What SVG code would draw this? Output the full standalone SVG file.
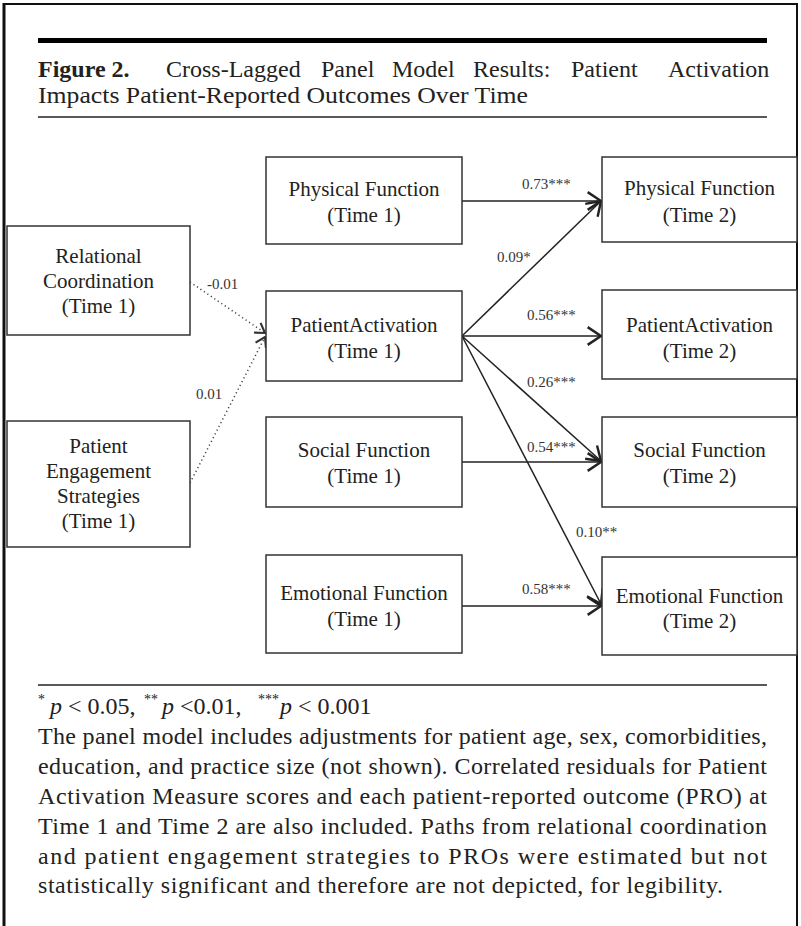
<svg xmlns="http://www.w3.org/2000/svg" width="801" height="926" viewBox="0 0 801 926">
<style>
  .frame{stroke:#111;fill:none}
  .box{fill:#fff;stroke:#333;stroke-width:1.5}
  .nt{font-family:"Liberation Serif","Times New Roman",serif;font-size:21px;fill:#222;text-anchor:middle}
  .lbl{font-family:"Liberation Serif","Times New Roman",serif;font-size:15px;fill:#333}
  .edge{stroke:#222;stroke-width:1.5;fill:none;marker-end:url(#arr)}
  .dot{stroke:#444;stroke-width:1.5;fill:none;stroke-dasharray:1.2 3;marker-end:url(#arrs)}
  .ttl{font-family:"Liberation Serif","Times New Roman",serif;font-size:24px;fill:#222}
  .ft{font-family:"Liberation Serif","Times New Roman",serif;font-size:24px;fill:#222}
  .sup{font-size:14px}
</style>
<defs>
  <marker id="arr" markerUnits="userSpaceOnUse" markerWidth="16" markerHeight="20" viewBox="0 0 14 18" refX="13" refY="9" orient="auto">
    <path d="M1,1 L13,9 L1,17" fill="none" stroke="#222" stroke-width="2.2"/>
  </marker>
  <marker id="arrs" markerUnits="userSpaceOnUse" markerWidth="12" markerHeight="14" viewBox="0 0 10 12" refX="9" refY="6" orient="auto">
    <path d="M1,1 L9,6 L1,11" fill="none" stroke="#333" stroke-width="1.8"/>
  </marker>
</defs>
<rect width="801" height="926" fill="#fff"/>
<!-- frame -->
<line class="frame" x1="4" y1="3" x2="4" y2="926" stroke-width="3"/>
<line class="frame" x1="3" y1="4" x2="798" y2="4" stroke-width="2"/>
<line class="frame" x1="797" y1="3" x2="797" y2="926" stroke-width="2"/>
<!-- title -->
<rect x="38" y="38" width="729" height="5" fill="#000"/>
<text class="ttl" y="77"><tspan x="38" font-weight="bold">Figure 2.</tspan><tspan x="166">Cross-Lagged</tspan><tspan x="321">Panel</tspan><tspan x="392">Model</tspan><tspan x="473">Results:</tspan><tspan x="571">Patient</tspan><tspan x="668">Activation</tspan></text>
<text class="ttl" x="38" y="103" textLength="490" lengthAdjust="spacingAndGlyphs">Impacts Patient-Reported Outcomes Over Time</text>
<line x1="38" y1="117" x2="767" y2="117" stroke="#222" stroke-width="1.5"/>

<!-- connectors -->
<g id="connectors">
  <line class="dot" x1="190" y1="282" x2="265" y2="333"/>
  <line class="dot" x1="190" y1="483" x2="265" y2="337"/>
  <line class="edge" x1="462" y1="201" x2="601" y2="201"/>
  <line class="edge" x1="462" y1="336" x2="601" y2="201"/>
  <line class="edge" x1="462" y1="336" x2="601" y2="336"/>
  <line class="edge" x1="462" y1="336" x2="601" y2="461"/>
  <line class="edge" x1="462" y1="336" x2="601" y2="604"/>
  <line class="edge" x1="462" y1="462" x2="601" y2="462"/>
  <line class="edge" x1="462" y1="606" x2="601" y2="606"/>
  <text class="lbl" x="207" y="289">-0.01</text>
  <text class="lbl" x="196" y="399">0.01</text>
  <text class="lbl" x="522" y="189">0.73***</text>
  <text class="lbl" x="497" y="262">0.09*</text>
  <text class="lbl" x="527" y="320">0.56***</text>
  <text class="lbl" x="527" y="387">0.26***</text>
  <text class="lbl" x="527" y="452">0.54***</text>
  <text class="lbl" x="576" y="537">0.10**</text>
  <text class="lbl" x="522" y="594">0.58***</text>
</g>

<!-- nodes -->
<g id="rc1">
  <rect class="box" x="7" y="226" width="183" height="109"/>
  <text class="nt" x="98.5" y="263">Relational</text>
  <text class="nt" x="98.5" y="288">Coordination</text>
  <text class="nt" x="98.5" y="313">(Time 1)</text>
</g>
<g id="pes1">
  <rect class="box" x="7" y="421" width="183" height="126"/>
  <text class="nt" x="98.5" y="453">Patient</text>
  <text class="nt" x="98.5" y="478">Engagement</text>
  <text class="nt" x="98.5" y="503">Strategies</text>
  <text class="nt" x="98.5" y="528">(Time 1)</text>
</g>
<g id="pf1">
  <rect class="box" x="266" y="157" width="196" height="87"/>
  <text class="nt" x="364" y="196">Physical Function</text>
  <text class="nt" x="364" y="222">(Time 1)</text>
</g>
<g id="pa1">
  <rect class="box" x="266" y="291" width="196" height="90"/>
  <text class="nt" x="364" y="332">PatientActivation</text>
  <text class="nt" x="364" y="358">(Time 1)</text>
</g>
<g id="sf1">
  <rect class="box" x="266" y="417" width="196" height="90"/>
  <text class="nt" x="364" y="457">Social Function</text>
  <text class="nt" x="364" y="483">(Time 1)</text>
</g>
<g id="ef1">
  <rect class="box" x="266" y="555" width="196" height="98"/>
  <text class="nt" x="364" y="600">Emotional Function</text>
  <text class="nt" x="364" y="626">(Time 1)</text>
</g>
<g id="pf2">
  <rect class="box" x="602" y="157" width="195" height="85"/>
  <text class="nt" x="699.5" y="195">Physical Function</text>
  <text class="nt" x="699.5" y="222">(Time 2)</text>
</g>
<g id="pa2">
  <rect class="box" x="602" y="290" width="195" height="89"/>
  <text class="nt" x="699.5" y="332">PatientActivation</text>
  <text class="nt" x="699.5" y="358">(Time 2)</text>
</g>
<g id="sf2">
  <rect class="box" x="602" y="417" width="195" height="90"/>
  <text class="nt" x="699.5" y="457">Social Function</text>
  <text class="nt" x="699.5" y="483">(Time 2)</text>
</g>
<g id="ef2">
  <rect class="box" x="602" y="557" width="195" height="98"/>
  <text class="nt" x="699.5" y="603">Emotional Function</text>
  <text class="nt" x="699.5" y="628">(Time 2)</text>
</g>

<!-- footer -->
<line x1="38" y1="685" x2="767" y2="685" stroke="#222" stroke-width="1.5"/>
<text class="ft" y="714" font-size="25"><tspan class="sup" x="38" dy="-10">*</tspan><tspan x="50" dy="10" font-style="italic">p</tspan><tspan x="68">&lt; 0.05,</tspan><tspan class="sup" x="144" dy="-10">**</tspan><tspan x="162" dy="10" font-style="italic">p</tspan><tspan x="180">&lt;0.01,</tspan><tspan class="sup" x="258" dy="-10">***</tspan><tspan x="280" dy="10" font-style="italic">p</tspan><tspan x="298">&lt; 0.001</tspan></text>
<text class="ft" x="38" y="744" textLength="729" lengthAdjust="spacing">The panel model includes adjustments for patient age, sex, comorbidities,</text>
<text class="ft" x="38" y="774" textLength="729" lengthAdjust="spacing">education, and practice size (not shown). Correlated residuals for Patient</text>
<text class="ft" x="38" y="804" textLength="729" lengthAdjust="spacing">Activation Measure scores and each patient-reported outcome (PRO) at</text>
<text class="ft" x="38" y="834" textLength="729" lengthAdjust="spacing">Time 1 and Time 2 are also included. Paths from relational coordination</text>
<text class="ft" x="38" y="864" textLength="729" lengthAdjust="spacing">and patient engagement strategies to PROs were estimated but not</text>
<text class="ft" x="38" y="893" textLength="685" lengthAdjust="spacing">statistically significant and therefore are not depicted, for legibility.</text>
</svg>
